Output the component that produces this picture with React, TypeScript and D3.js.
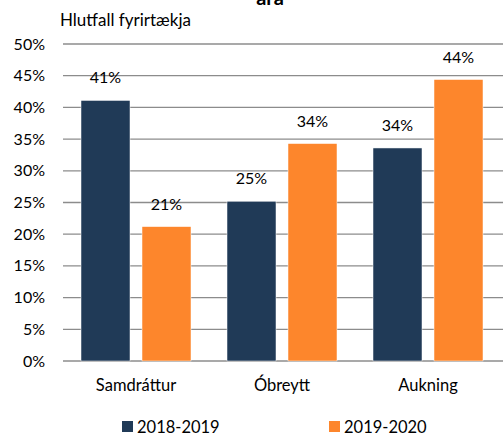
import React from "react";
import * as d3 from "d3";

const categories = ["Samdráttur", "Óbreytt", "Aukning"];
const seriesNames = ["2018-2019", "2019-2020"];
const values2018 = [41.1, 25.2, 33.6];
const values2019 = [21.2, 34.3, 44.4];
const labels2018 = ["41%", "25%", "34%"];
const labels2019 = ["21%", "34%", "44%"];
const yTicks = [0, 5, 10, 15, 20, 25, 30, 35, 40, 45, 50];
const colors = ["#203a57", "#fd862c"];

const W = 503;
const H = 435;
const left = 63;
const right = 501;
const top = 44;
const bottom = 361;

export default function App() {
  const x = d3.scaleBand<string>().domain(categories).range([left, right]).paddingInner(0).paddingOuter(0);
  const inner = d3.scaleBand<string>().domain(seriesNames).range([0, 110]).paddingInner(12 / 61);
  const y = d3.scaleLinear().domain([0, 50]).range([bottom, top]);
  const font = "Lato, sans-serif";
  const series = [
    { name: seriesNames[0], vals: values2018, labels: labels2018, color: colors[0] },
    { name: seriesNames[1], vals: values2019, labels: labels2019, color: colors[1] },
  ];
  const offset = (x.bandwidth() - 110) / 2;
  return (
    <svg width={W} height={H} style={{ position: "absolute", left: 0, top: 0 }} fontFamily={font}>
      <rect width={W} height={H} fill="#fff" />
      <text x={270} y={5} textAnchor="middle" fontSize={20} fontWeight="bold" fill="#000">ára</text>
      <text x={60} y={26} fontSize={17} fill="#000">Hlutfall fyrirtækja</text>
      {yTicks.map((t) => (
        <g key={t}>
          <line x1={left} x2={right + 2} y1={y(t)} y2={y(t)} stroke="#8c8c8c" strokeWidth={1.3} />
          <text x={45} y={y(t) + 5.5} textAnchor="end" fontSize={16} fill="#000">{t}%</text>
        </g>
      ))}
      {series.map((s) =>
        categories.map((c, i) => {
          const bx = (x(c) as number) + offset + (inner(s.name) as number);
          const bw = inner.bandwidth();
          return (
            <g key={s.name + c}>
              <rect x={bx} y={y(s.vals[i])} width={bw} height={bottom - y(s.vals[i])} fill={s.color} stroke="#fff" strokeWidth={0.5} />
              <text x={bx + bw / 2} y={y(s.vals[i]) - 17} textAnchor="middle" fontSize={16} fill="#000">{s.labels[i]}</text>
            </g>
          );
        })
      )}
      {categories.map((c) => (
        <text key={c} x={(x(c) as number) + x.bandwidth() / 2} y={391} textAnchor="middle" fontSize={16.5} fill="#000">{c}</text>
      ))}
      {series.map((s, i) => (
        <g key={s.name} transform={`translate(${i === 0 ? 122 : 329},421)`}>
          <rect x={0} y={0} width={11} height={11} fill={s.color} />
          <text x={15} y={11.5} fontSize={16.5} fill="#000">{s.name}</text>
        </g>
      ))}
    </svg>
  );
}
